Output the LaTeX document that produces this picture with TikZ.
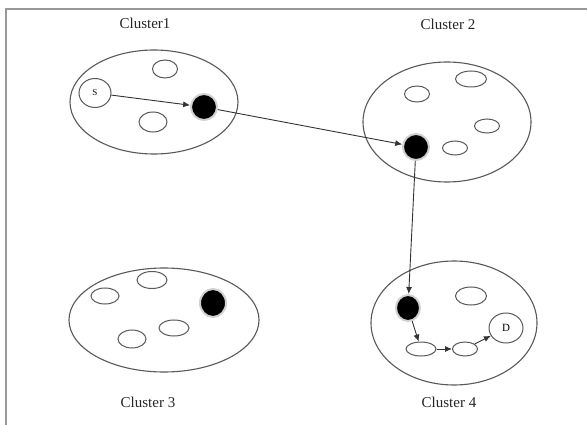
\documentclass[tikz,border=0pt]{standalone}
\usepackage{fontspec}
\setmainfont{Liberation Serif}
\usetikzlibrary{shapes.geometric,arrows.meta}
\tikzset{
  cluster/.style={ellipse,draw=black!65,line width=1.1pt,inner sep=0pt},
  member/.style={ellipse,draw=black!65,line width=1pt,inner sep=0pt},
  head/.style={circle,fill=black,draw=black!18,line width=2pt,inner sep=0pt},
  label/.style={font=\fontsize{15}{17}\selectfont,text=black!85},
  link/.style={draw=black!80,line width=0.9pt,-{Latex[length=7pt,width=6pt]}},
  frame/.style={draw=black!40,line width=2pt}
}
\begin{document}
\begin{tikzpicture}[x=1pt,y=-1pt]
  \useasboundingbox (0,0) rectangle (587,425);
  \fill[white] (0,0) rectangle (587,425);
  % frame
  \draw[frame] (6,425) -- (6,9) -- (587,9);

  % cluster titles
  \node[label] (t1) at (145,23) {Cluster1};
  \node[label] (t2) at (448,24) {Cluster 2};
  \node[label] (t3) at (148,402) {Cluster 3};
  \node[label] (t4) at (449,402) {Cluster 4};

  % cluster 1
  \node[cluster,minimum width=168pt,minimum height=104pt] (c1) at (154,102) {};
  \node[member,minimum width=32pt,minimum height=29pt,font=\fontsize{9}{10}\selectfont] (s) at (95,93) {S};
  \node[member,minimum width=25pt,minimum height=18pt] (c1a) at (165,69) {};
  \node[member,minimum width=28pt,minimum height=20pt] (c1b) at (153,122) {};
  \node[head,minimum size=26pt] (h1) at (204,107) {};

  % cluster 2
  \node[cluster,minimum width=168pt,minimum height=120pt] (c2) at (447,122) {};
  \node[member,minimum width=25pt,minimum height=16pt] (c2a) at (417,94) {};
  \node[member,minimum width=31pt,minimum height=16pt] (c2b) at (471,79) {};
  \node[member,minimum width=25pt,minimum height=14pt] (c2c) at (487,126) {};
  \node[member,minimum width=25pt,minimum height=14pt] (c2d) at (455,148) {};
  \node[head,minimum size=26pt] (h2) at (416,147) {};

  % cluster 3
  \node[cluster,minimum width=190pt,minimum height=104pt] (c3) at (164,320) {};
  \node[member,minimum width=30pt,minimum height=17pt] (c3a) at (152,280) {};
  \node[member,minimum width=28pt,minimum height=16pt] (c3b) at (105,296) {};
  \node[member,minimum width=28pt,minimum height=18pt] (c3c) at (132,339) {};
  \node[member,minimum width=30pt,minimum height=16pt] (c3d) at (174,328) {};
  \node[head,minimum width=26pt,minimum height=28pt,ellipse] (h3) at (213,303) {};

  % cluster 4
  \node[cluster,minimum width=166pt,minimum height=124pt] (c4) at (454,323) {};
  \node[member,minimum width=31pt,minimum height=18pt] (c4a) at (471,296) {};
  \node[member,minimum width=34pt,minimum height=30pt,font=\fontsize{11}{12}\selectfont] (d) at (506,328) {D};
  \node[member,minimum width=30pt,minimum height=14pt] (c4b) at (421,349) {};
  \node[member,minimum width=25pt,minimum height=14pt] (c4c) at (465,349) {};
  \node[head,minimum width=24pt,minimum height=26pt,ellipse] (h4) at (408,308) {};

  % route from S to D
  \draw[link] (s) -- (h1);
  \draw[link] (h1) -- (h2);
  \draw[link] (h2) -- (h4);
  \draw[link] (h4) -- (c4b);
  \draw[link] (c4b) -- (c4c);
  \draw[link] (c4c) -- (d);
\end{tikzpicture}
\end{document}
